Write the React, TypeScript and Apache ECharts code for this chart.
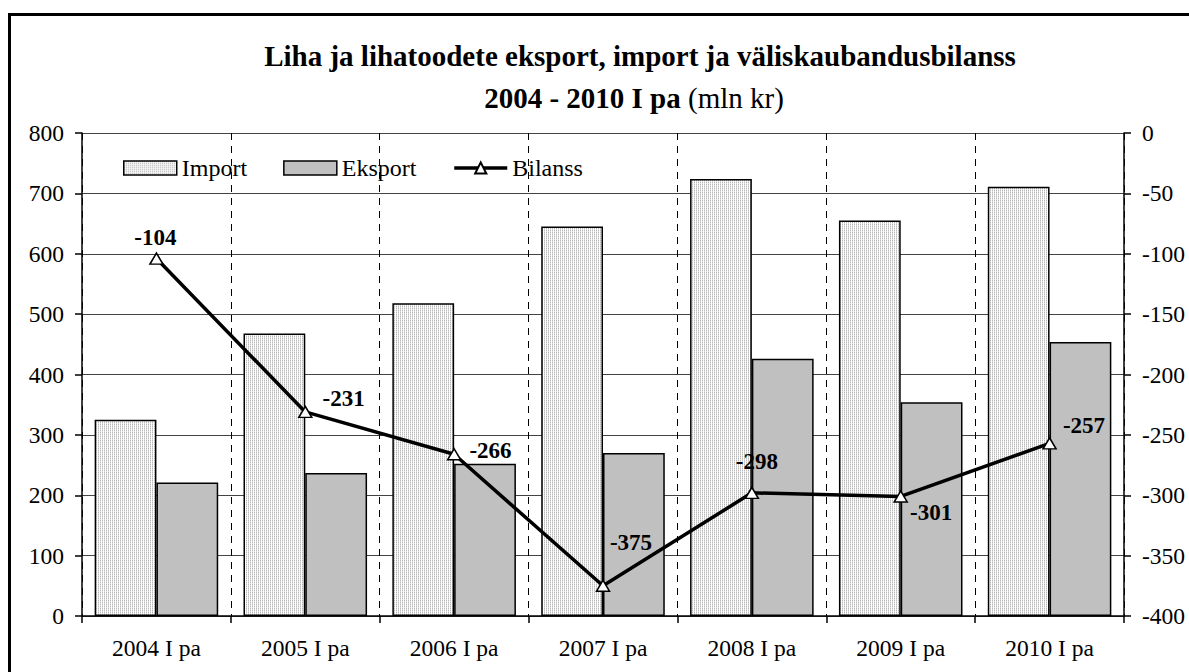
import React, { useEffect, useRef } from "react";
import * as echarts from "echarts";

const categories = ["2004 I pa", "2005 I pa", "2006 I pa", "2007 I pa", "2008 I pa", "2009 I pa", "2010 I pa"];
const importValues = [325, 468, 518, 645, 724, 655, 711];
const exportValues = [221, 237, 252, 270, 426, 354, 454];
const balanceValues = [-104, -231, -266, -375, -298, -301, -257];
const leftTicks = { min: 0, max: 800, interval: 100 };
const rightTicks = { min: -400, max: 0, interval: 50 };

const FONT = "Liberation Serif";

// label placement per point (style only)
const labelPlacement: any[] = [
  { position: "top", distance: 3, offset: [-1, 0] },
  { position: "right", distance: 10, offset: [0, -13] },
  { position: "right", distance: 8, offset: [0, -4] },
  { position: "top", distance: 26, offset: [28, 0] },
  { position: "top", distance: 14, offset: [5, 0] },
  { position: "right", distance: 2, offset: [0, 16] },
  { position: "right", distance: 6, offset: [0, -18] },
];

function makePattern(): any {
  const c = document.createElement("canvas");
  c.width = 2;
  c.height = 2;
  const ctx = c.getContext("2d")!;
  ctx.fillStyle = "#ffffff";
  ctx.fillRect(0, 0, 2, 2);
  ctx.fillStyle = "#b8b8b8";
  ctx.fillRect(0, 0, 1, 1);
  ctx.fillStyle = "#dcdcdc";
  ctx.fillRect(0, 1, 1, 1);
  return { image: c, repeat: "repeat" };
}

export default function App() {
  const ref = useRef<HTMLDivElement>(null);
  useEffect(() => {
    if (!ref.current) return;
    const chart = echarts.init(ref.current, undefined, { renderer: "svg" });
    const pattern = makePattern();
    const option: any = {
      animation: false,
      backgroundColor: "#ffffff",
      textStyle: { fontFamily: FONT, color: "#000" },
      grid: { left: 82, right: 65, top: 133, bottom: 56, containLabel: false },
      graphic: [
        {
          type: "rect",
          shape: { x: 9.5, y: 14.5, width: 1400, height: 900 },
          style: { fill: "none", stroke: "#000", lineWidth: 3 },
          silent: true,
          z: 100,
        },
        {
          type: "text",
          x: 640,
          y: 56,
          style: {
            text: "Liha ja lihatoodete eksport, import ja väliskaubandusbilanss",
            fontFamily: FONT,
            fontSize: 29,
            fontWeight: "bold",
            fill: "#000",
            textAlign: "center",
            textVerticalAlign: "middle",
          },
        },
        {
          type: "text",
          x: 634,
          y: 98,
          style: {
            text: "{b|2004 - 2010 I pa}{n| (mln kr)}",
            textAlign: "center",
            textVerticalAlign: "middle",
            fill: "#000",
            rich: {
              b: { fontFamily: FONT, fontSize: 29, fontWeight: "bold", fill: "#000" },
              n: { fontFamily: FONT, fontSize: 29, fontWeight: "normal", fill: "#000" },
            },
          },
        },
      ],
      legend: {
        left: 118,
        top: 151,
        itemWidth: 53,
        itemHeight: 14,
        itemGap: 36,
        textStyle: { fontFamily: FONT, fontSize: 24, color: "#000" },
        data: [
          { name: "Import", icon: "rect", itemStyle: { borderColor: "#000", borderWidth: 1.5 } },
          { name: "Eksport", icon: "rect", itemStyle: { borderColor: "#000", borderWidth: 1.5 } },
          { name: "Bilanss", lineStyle: { width: 3.5, color: "#000" } },
        ],
      },
      xAxis: {
        type: "category",
        data: categories,
        boundaryGap: true,
        axisLine: { show: true, onZero: false, lineStyle: { color: "#000", width: 1.5 } },
        axisTick: { show: true, length: 7, inside: false, alignWithLabel: false, lineStyle: { color: "#000", width: 1.5 } },
        axisLabel: { fontFamily: FONT, fontSize: 23.5, color: "#000", margin: 20 },
        splitLine: { show: true, interval: 0, lineStyle: { color: "#000", type: [7, 6], width: 1 } },
      },
      yAxis: [
        {
          type: "value",
          min: leftTicks.min,
          max: leftTicks.max,
          interval: leftTicks.interval,
          axisLine: { show: true, lineStyle: { color: "#000", width: 1.5 } },
          axisTick: { show: true, length: 7, lineStyle: { color: "#000", width: 1.5 } },
          axisLabel: { fontFamily: FONT, fontSize: 23.5, color: "#000", margin: 18 },
          splitLine: { show: true, lineStyle: { color: "#444", width: 1 } },
        },
        {
          type: "value",
          min: rightTicks.min,
          max: rightTicks.max,
          interval: rightTicks.interval,
          position: "right",
          axisLine: { show: true, lineStyle: { color: "#000", width: 1.5 } },
          axisTick: { show: true, length: 7, lineStyle: { color: "#000", width: 1.5 } },
          axisLabel: { fontFamily: FONT, fontSize: 23.5, color: "#000", margin: 18 },
          splitLine: { show: false },
        },
      ],
      series: [
        {
          name: "Import",
          type: "bar",
          yAxisIndex: 0,
          data: importValues,
          barGap: "0%",
          barCategoryGap: "17%",
          itemStyle: { color: pattern, borderColor: "#000", borderWidth: 1.5 },
          z: 2,
        },
        {
          name: "Eksport",
          type: "bar",
          yAxisIndex: 0,
          data: exportValues,
          barGap: "0%",
          barCategoryGap: "17%",
          itemStyle: { color: "#c0c0c0", borderColor: "#000", borderWidth: 1.5 },
          z: 2,
        },
        {
          name: "Bilanss",
          type: "line",
          yAxisIndex: 1,
          data: balanceValues.map((v, i) => ({
            value: v,
            label: { show: true, ...labelPlacement[i] },
          })),
          symbol: "triangle",
          symbolSize: [13, 11],
          lineStyle: { color: "#000", width: 3.5 },
          itemStyle: { color: "#fff", borderColor: "#000", borderWidth: 1.5 },
          label: {
            show: true,
            fontFamily: FONT,
            fontSize: 23,
            fontWeight: "bold",
            color: "#000",
          },
          z: 5,
        },
      ],
    };
    chart.setOption(option);
    return () => chart.dispose();
  }, []);
  return (
    <div
      ref={ref}
      style={{ position: "fixed", left: 0, top: 0, width: 1189, height: 672, background: "#fff" }}
    />
  );
}
